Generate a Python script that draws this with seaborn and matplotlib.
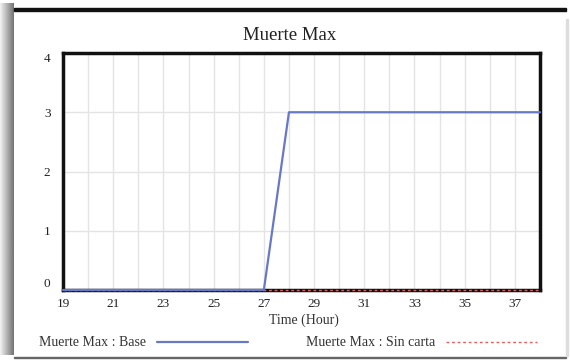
import numpy as np
import pandas as pd
import matplotlib
matplotlib.use('Agg')
import matplotlib.pyplot as plt
import seaborn as sns
from matplotlib.patches import Rectangle
from matplotlib.lines import Line2D

# data
hours = [19, 20, 21, 22, 23, 24, 25, 26, 27, 28, 29, 30, 31, 32, 33, 34, 35, 36, 37, 38]
base = [0, 0, 0, 0, 0, 0, 0, 0, 0, 3, 3, 3, 3, 3, 3, 3, 3, 3, 3, 3]
sin_carta = [0, 0, 0, 0, 0, 0, 0, 0, 0, 0, 0, 0, 0, 0, 0, 0, 0, 0, 0, 0]
x_ticks = [19, 21, 23, 25, 27, 29, 31, 33, 35, 37]
y_ticks = [0, 1, 2, 3, 4]

df = pd.DataFrame({'Time': hours, 'Base': base, 'Sin carta': sin_carta})

sns.set_style('white')
plt.rcParams['font.family'] = ['Liberation Serif', 'DejaVu Serif']

W, H = 570, 360
fig = plt.figure(figsize=(W / 100, H / 100), dpi=100)

# frame of the panel: shadow on the left, black top edge
grad = fig.add_axes([0, 5 / H, 14 / W, 1 - 5 / H - 3 / H])
grad.imshow(np.linspace(0.95, 0.45, 50)[None, :], cmap='gray', vmin=0, vmax=1,
            aspect='auto', extent=[0, 1, 0, 1])
grad.axis('off')
fig.add_artist(Rectangle((14 / W, 1 - 11 / H), 552 / W, 3 / H,
                         transform=fig.transFigure, color='#111111'))
fig.add_artist(Rectangle((14 / W, 1 - 358 / H), 552 / W, 1.5 / H,
                         transform=fig.transFigure, color='#666666'))
fig.add_artist(Rectangle((566 / W, 1 - 356 / H), 1.5 / W, 337 / H,
                         transform=fig.transFigure, color='#dddddd'))

ax = fig.add_axes([63 / W, 1 - 290 / H, 477 / W, 237 / H])

sns.lineplot(data=df, x='Time', y='Sin carta', ax=ax, color='#e06060',
             linestyle=(0, (2, 2)), linewidth=1.0, zorder=4, clip_on=False)
sns.lineplot(data=df, x='Time', y='Base', ax=ax, color='#6878c8',
             linewidth=1.6, zorder=5, clip_on=False)

ax.set_xlim(19, 38)
ax.set_ylim(0, 4)
ax.set_xticks(range(19, 39), minor=True)
ax.set_xticks(x_ticks)
ax.set_yticks(y_ticks)
ax.set_xticklabels([str(t) for t in x_ticks])
ax.set_yticklabels([str(t) for t in y_ticks])
ax.grid(True, which='both', axis='x', color='#e4e4e4', linewidth=1.0)
ax.grid(True, which='major', axis='y', color='#e4e4e4', linewidth=1.0)
ax.tick_params(which='both', length=0)
ax.tick_params(axis='x', pad=6, labelsize=9.5, labelcolor='#222222')
ax.tick_params(axis='y', pad=9, labelsize=9.5, labelcolor='#222222')
ylabs = ax.get_yticklabels()
ylabs[0].set_va('bottom')
ylabs[-1].set_va('top')
ax.set_xlabel('')
ax.set_ylabel('')
for s in ax.spines.values():
    s.set_visible(True)
    s.set_color('#111111')
    s.set_linewidth(2.5)

fig.text(290 / W, 1 - 36 / H, 'Muerte Max', ha='center', va='center',
         fontsize=13.5, color='#222222')
fig.text(304 / W, 1 - 320 / H, 'Time (Hour)', ha='center', va='center',
         fontsize=10, color='#333333')

handles = [Line2D([], [], color='#6878c8', linewidth=1.6),
           Line2D([], [], color='#e06060', linestyle=(0, (2, 2)), linewidth=1.0)]
fig.legend(handles, ['Muerte Max : Base', 'Muerte Max : Sin carta'],
           loc='center', bbox_to_anchor=(288 / W, 1 - 343 / H), ncol=2,
           frameon=False, markerfirst=False, handlelength=6.5,
           handletextpad=0.8, columnspacing=4.2, fontsize=10,
           labelcolor='#333333')

fig.savefig('out.png', dpi=100)
